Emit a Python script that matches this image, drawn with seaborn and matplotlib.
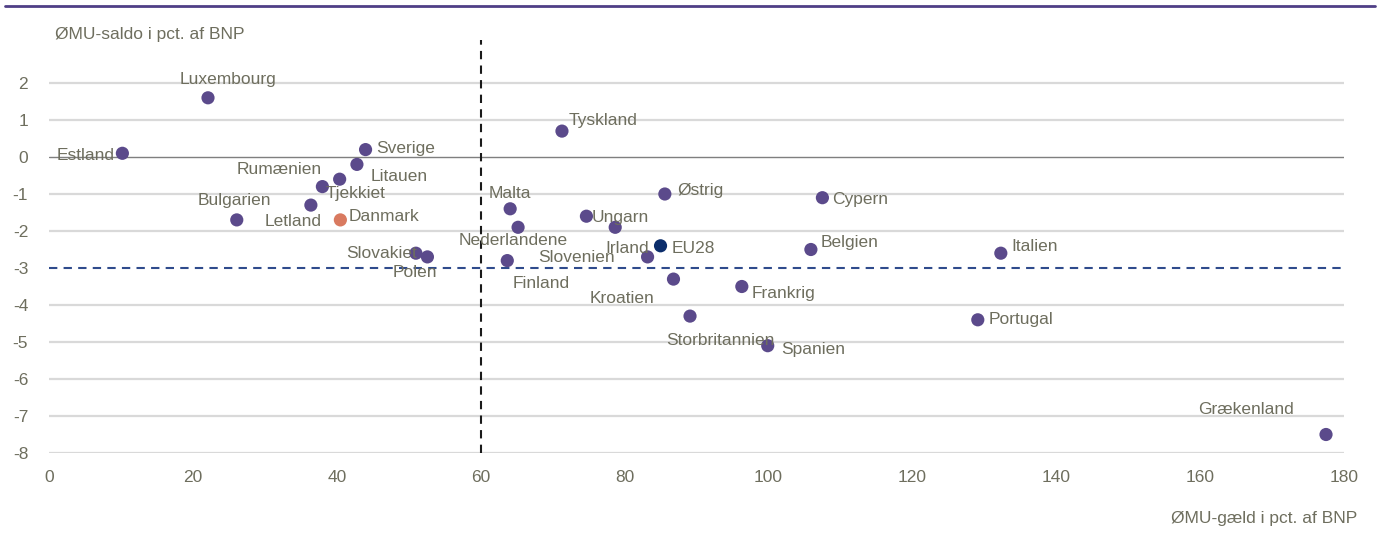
import matplotlib
matplotlib.use("Agg")
import matplotlib.pyplot as plt
from matplotlib.lines import Line2D
import seaborn as sns
import pandas as pd

# data: debt (x) and balance (y), pct. of GDP
lande = ["Luxembourg", "Estland", "Sverige", "Litauen", "Rumænien", "Tjekkiet",
         "Letland", "Bulgarien", "Danmark", "Slovakiet", "Polen", "Malta",
         "Nederlandene", "Finland", "Ungarn", "Slovenien", "Irland", "EU28",
         "Østrig", "Kroatien", "Frankrig", "Storbritannien", "Spanien",
         "Cypern", "Belgien", "Italien", "Portugal", "Grækenland", "Tyskland"]
gaeld = [22.1, 10.2, 44.0, 42.8, 38.0, 40.4, 36.4, 26.1, 40.5, 51.0, 52.6, 64.1,
         65.2, 63.7, 74.7, 78.7, 83.2, 85.0, 85.6, 86.8, 96.3, 89.1, 99.9,
         107.5, 105.9, 132.3, 129.1, 177.5, 71.3]
saldo = [1.6, 0.1, 0.2, -0.2, -0.8, -0.6, -1.3, -1.7, -1.7, -2.6, -2.7, -1.4,
         -1.9, -2.8, -1.6, -1.9, -2.7, -2.4, -1.0, -3.3, -3.5, -4.3, -5.1,
         -1.1, -2.5, -2.6, -4.4, -7.5, 0.7]

# label offsets from the dot, pixels (dx, dy)
offsets = {
    "Luxembourg": (20, 18), "Estland": (-37, -2), "Sverige": (40, 1),
    "Litauen": (42, -12), "Rumænien": (-43, 17), "Tjekkiet": (16, -14),
    "Letland": (-18, -16), "Bulgarien": (-2, 19), "Danmark": (44, 3),
    "Slovakiet": (-34, 0), "Polen": (-13, -16), "Malta": (0, 15),
    "Nederlandene": (-5, -13), "Finland": (34, -23), "Ungarn": (34, -1),
    "Slovenien": (-39, -30), "Irland": (-20, 8), "EU28": (33, -3),
    "Østrig": (36, 3), "Kroatien": (-51, -19), "Frankrig": (42, -7),
    "Storbritannien": (30, -24), "Spanien": (45, -4), "Cypern": (38, -2),
    "Belgien": (39, 7), "Italien": (34, 7), "Portugal": (43, 0),
    "Grækenland": (-80, 25), "Tyskland": (41, 11),
}

df = pd.DataFrame({"land": lande, "gaeld": gaeld, "saldo": saldo})
df["gruppe"] = ["dk" if l == "Danmark" else "eu" if l == "EU28" else "land" for l in lande]
palette = {"land": "#5B4A8B", "dk": "#D97A60", "eu": "#0B2D6B"}

sns.set_theme(style="white")
plt.rcParams["font.family"] = ["Liberation Sans", "DejaVu Sans"]
plt.rcParams["axes.unicode_minus"] = False
txt = "#6E6E5E"
fs = 12.5

fig = plt.figure(figsize=(13.8, 5.42), dpi=100)
ax = fig.add_axes([49 / 1380, 1 - 453 / 542, (1344 - 49) / 1380, (453 - 40) / 542])

for yv in range(-8, 3):
    if yv == 0:
        ax.axhline(0, color="#7F7F7F", lw=1, zorder=1)
    elif yv != -3:
        ax.axhline(yv, color="#D9D9D9", lw=1.6, zorder=1)
ax.axhline(-3, color="#2F4B8C", lw=1.5, ls=(0, (4, 3)), zorder=2)
ax.axvline(60, color="#1A1A1A", lw=1.5, ls=(0, (4, 3)), zorder=2)

sns.scatterplot(data=df, x="gaeld", y="saldo", hue="gruppe", palette=palette,
                s=90, linewidth=0, legend=False, ax=ax, zorder=3)

for l, xv, yv in zip(lande, gaeld, saldo):
    dx, dy = offsets[l]
    ax.annotate(l, (xv, yv), xytext=(dx, dy), textcoords="offset pixels",
                ha="center", va="center", fontsize=fs, color=txt, zorder=4)

ax.set_xlim(0, 180)
ax.set_ylim(-8, 2 + 43 / 37)
ax.set_xticks(range(0, 181, 20))
ax.set_yticks(range(-8, 3))
ax.tick_params(axis="both", length=0, labelsize=fs, labelcolor=txt)
ax.tick_params(axis="x", pad=12)
ax.tick_params(axis="y", pad=15)
ax.set_xlabel("")
ax.set_ylabel("")
for sp in ax.spines.values():
    sp.set_visible(False)

fig.text(55 / 1380, 1 - 35 / 542, "ØMU-saldo i pct. af BNP", ha="left", va="center",
         fontsize=fs, color=txt)
fig.text(1357 / 1380, 1 - 518 / 542, "ØMU-gæld i pct. af BNP", ha="right", va="center",
         fontsize=fs, color=txt)
fig.add_artist(Line2D([5 / 1380, 1375 / 1380], [1 - 6 / 542, 1 - 6 / 542],
                      color="#4F3F86", lw=2, transform=fig.transFigure))

fig.savefig("out.png", dpi=100)
